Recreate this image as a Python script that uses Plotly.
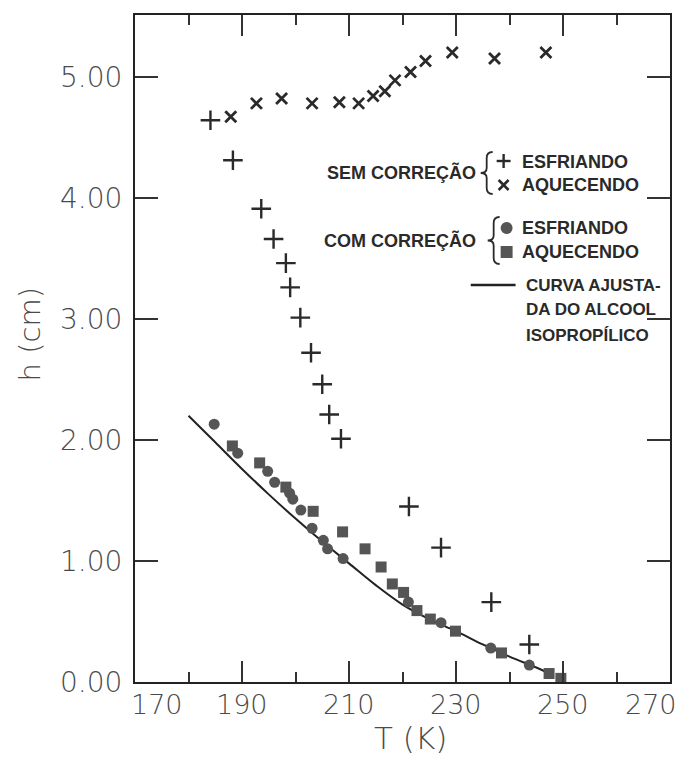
import plotly.graph_objects as go

# ---- data ----
# Sem correção, esfriando (+)
sem_esf_T = [184.1, 188.3, 193.6, 195.9, 198.2, 199.0, 200.9, 202.9, 205.0, 206.3, 208.5, 221.2, 227.2, 236.6, 243.7]
sem_esf_h = [4.64, 4.31, 3.91, 3.66, 3.46, 3.26, 3.01, 2.72, 2.46, 2.21, 2.01, 1.45, 1.11, 0.66, 0.31]
# Sem correção, aquecendo (x)
sem_aq_T = [187.9, 192.7, 197.4, 203.1, 208.2, 211.8, 214.5, 216.7, 218.6, 221.5, 224.3, 229.3, 237.2, 246.8]
sem_aq_h = [4.67, 4.78, 4.82, 4.78, 4.79, 4.78, 4.84, 4.88, 4.97, 5.04, 5.13, 5.20, 5.15, 5.20]
# Com correção, esfriando (circles)
com_esf_T = [184.8, 189.2, 194.8, 196.1, 198.9, 199.5, 201.0, 203.1, 205.2, 206.0, 208.9, 221.1, 227.2, 236.5, 243.7]
com_esf_h = [2.13, 1.89, 1.74, 1.65, 1.56, 1.51, 1.42, 1.27, 1.17, 1.10, 1.02, 0.66, 0.49, 0.28, 0.14]
# Com correção, aquecendo (squares)
com_aq_T = [188.2, 193.3, 198.2, 203.3, 208.8, 213.0, 216.0, 218.1, 220.2, 222.7, 225.2, 229.9, 238.5, 247.4, 249.6]
com_aq_h = [1.95, 1.81, 1.61, 1.41, 1.24, 1.10, 0.95, 0.81, 0.74, 0.59, 0.52, 0.42, 0.24, 0.07, 0.03]
# Curva ajustada do álcool isopropílico
curva_T = [180, 185, 190, 195, 200, 205, 210, 215, 220, 225, 230, 235, 240, 245, 247]
curva_h = [2.20, 1.98, 1.76, 1.55, 1.35, 1.16, 0.98, 0.80, 0.64, 0.52, 0.42, 0.31, 0.21, 0.12, 0.08]

x_ticks = [170, 190, 210, 230, 250, 270]
x_minor = [180, 200, 220, 240, 260]
y_ticks = [0, 1, 2, 3, 4, 5]
y_labels = ["0.00", "1.00", "2.00", "3.00", "4.00", "5.00"]

# ---- layout geometry (pixels) ----
W, H = 682, 759
L, R, T, B = 135, 10, 15, 77
PW, PH = W - L - R, H - T - B
XMIN, XMAX = 170, 270

def px(x):
    return (x - L) / PW

def py(y):
    return (H - B - y) / PH

fig = go.Figure()

fig.add_trace(go.Scatter(x=curva_T, y=curva_h, mode="lines", line=dict(color="#222", width=2, shape="spline"),
                         hoverinfo="skip"))
fig.add_trace(go.Scatter(x=sem_esf_T, y=sem_esf_h, mode="markers",
                         marker=dict(symbol="cross-thin", size=14, line=dict(color="#2a2a2a", width=2.4))))
fig.add_trace(go.Scatter(x=sem_aq_T, y=sem_aq_h, mode="markers",
                         marker=dict(symbol="x-thin", size=11, line=dict(color="#2a2a2a", width=2.8))))
fig.add_trace(go.Scatter(x=com_aq_T, y=com_aq_h, mode="markers",
                         marker=dict(symbol="square", size=11, color="#555", line=dict(width=0))))
fig.add_trace(go.Scatter(x=com_esf_T, y=com_esf_h, mode="markers",
                         marker=dict(symbol="circle", size=11, color="#555", line=dict(width=0))))

fig.update_xaxes(range=[XMIN, XMAX], tickvals=x_ticks, showticklabels=False,
                 ticks="inside", ticklen=21, tickwidth=2, tickcolor="#333",
                 minor=dict(tickvals=x_minor, ticks="inside", ticklen=10, tickwidth=2, tickcolor="#333"),
                 showline=True, linecolor="#222", linewidth=2, mirror="ticks",
                 showgrid=False, zeroline=False)
fig.update_yaxes(range=[0, 5.51], tickvals=y_ticks, ticktext=y_labels,
                 ticks="inside", ticklen=23, tickwidth=2, tickcolor="#333",
                 showline=True, linecolor="#222", linewidth=2, mirror="ticks",
                 showgrid=False, zeroline=False,
                 tickfont=dict(family="DejaVu Sans", size=28, color="#4a4a4a", weight=300), ticklabelstandoff=5)

annotations = []

def ann(text, x, y, size=17, xanchor="left", color="#2a2a2a", family="Liberation Sans", angle=0, weight=None,
        yanchor="middle"):
    f = dict(family=family, size=size, color=color)
    if weight:
        f["weight"] = weight
    annotations.append(dict(text=text, x=px(x), y=py(y), xref="paper", yref="paper", showarrow=False,
                            xanchor=xanchor, yanchor=yanchor, font=f, textangle=angle))

# x tick labels (edge labels pulled inward as in the reference)
for v in x_ticks:
    xpix = L + (v - XMIN) / (XMAX - XMIN) * PW
    if v == XMIN:
        xpix += 22
    elif v == XMAX:
        xpix -= 19
    ann(str(v), xpix, 704, size=27, xanchor="center", color="#4a4a4a", family="DejaVu Sans", weight=300)

# axis titles
ann("h (cm)", 30, 334, size=29, xanchor="center", color="#4a4a4a", family="DejaVu Sans", angle=-90, weight=300)
ann("T (K)", 412, 738, size=31, xanchor="center", color="#4a4a4a", family="DejaVu Sans", weight=300)

# legend text
ann("SEM CORREÇÃO", 479, 173, size=18, xanchor="right", weight=700)
ann("ESFRIANDO", 521, 162, size=18, weight=700)
ann("AQUECENDO", 521, 185, size=18, weight=700)
ann("COM CORREÇÃO", 479, 240, size=18, xanchor="right", weight=700)
ann("ESFRIANDO", 521, 228, size=18, weight=700)
ann("AQUECENDO", 521, 252, size=18, weight=700)
ann("CURVA AJUSTA-", 525, 285, size=17, weight=700)
ann("DA DO ALCOOL", 525, 309, size=17, weight=700)
ann("ISOPROPÍLICO", 525, 335, size=17, weight=700)

def brace(xe, xs, xt, y0, y1):
    ym = (y0 + y1) / 2
    pts = [
        f"M {px(xe)},{py(y0)}",
        f"Q {px(xs)},{py(y0)} {px(xs)},{py(y0 + 6)}",
        f"L {px(xs)},{py(ym - 5)}",
        f"Q {px(xs)},{py(ym)} {px(xt)},{py(ym)}",
        f"Q {px(xs)},{py(ym)} {px(xs)},{py(ym + 5)}",
        f"L {px(xs)},{py(y1 - 6)}",
        f"Q {px(xs)},{py(y1)} {px(xe)},{py(y1)}",
    ]
    return dict(type="path", xref="paper", yref="paper", path=" ".join(pts),
                line=dict(color="#2a2a2a", width=1.8))

def seg(x0, y0, x1, y1, w=2.4, c="#2a2a2a"):
    return dict(type="line", xref="paper", yref="paper", x0=px(x0), x1=px(x1), y0=py(y0), y1=py(y1),
                line=dict(color=c, width=w))

shapes = [
    brace(494, 488, 482, 152, 194),
    brace(501, 495, 489, 217, 264),
    seg(472, 285, 517, 285, 2.4, "#222"),
    # legend "+" and "x"
    seg(498, 161, 512, 161), seg(505, 154, 505, 168),
    seg(500, 180, 510, 190, 2.6), seg(500, 190, 510, 180, 2.6),
    # legend circle and square
    dict(type="circle", xref="paper", yref="paper", x0=px(502), x1=px(514), y0=py(222), y1=py(234),
         fillcolor="#555", line=dict(width=0)),
    dict(type="rect", xref="paper", yref="paper", x0=px(502), x1=px(514), y0=py(246), y1=py(258),
         fillcolor="#555", line=dict(width=0)),
]

fig.update_layout(width=W, height=H, margin=dict(l=L, r=R, t=T, b=B), showlegend=False,
                  paper_bgcolor="white", plot_bgcolor="white", annotations=annotations, shapes=shapes)

fig.write_html("out.html")
